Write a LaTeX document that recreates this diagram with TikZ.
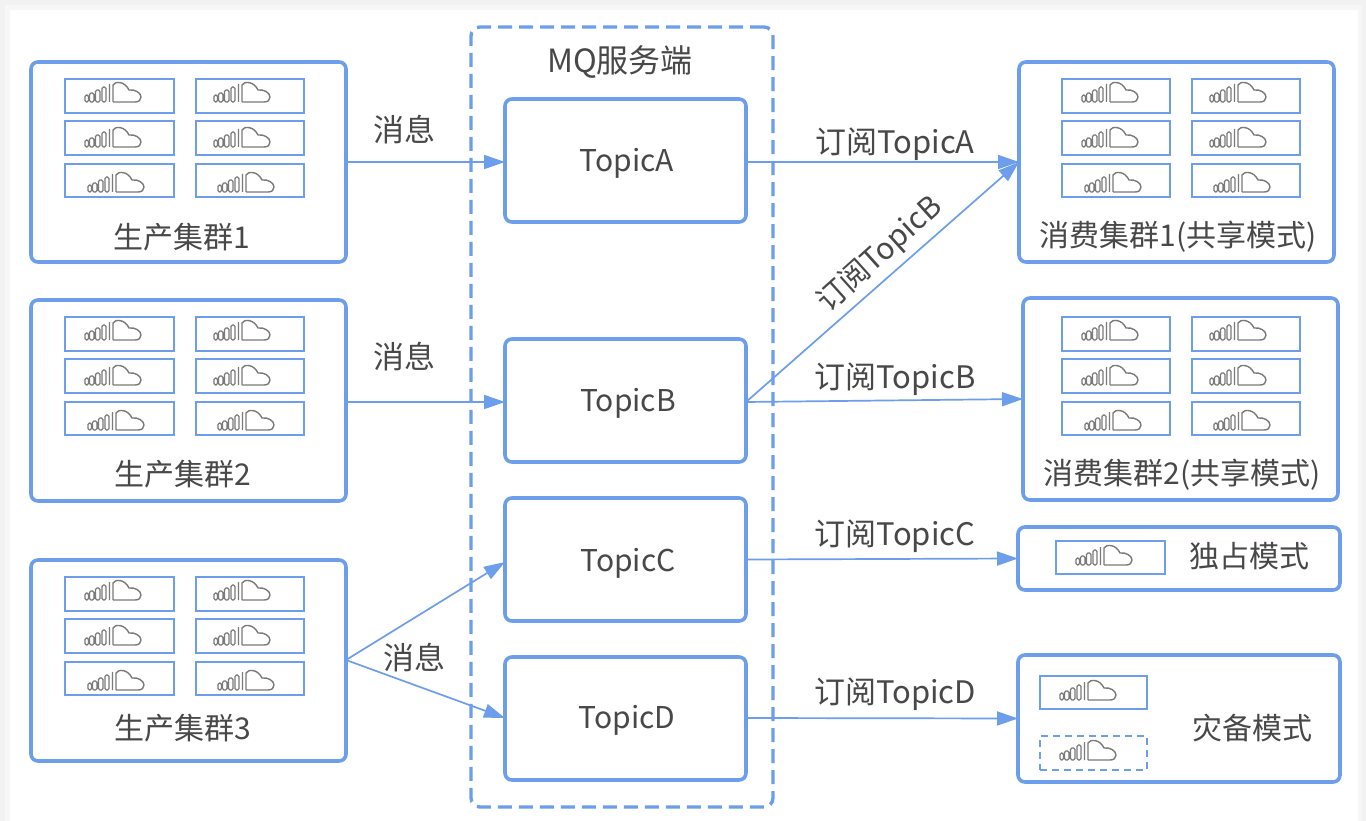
\documentclass[tikz,border=0pt]{standalone}
\usepackage{fontspec}
\setmainfont{Noto Sans CJK SC}
\usetikzlibrary{arrows.meta}
\definecolor{mqblue}{HTML}{6D9EEB}
\definecolor{mqtext}{HTML}{484848}
\definecolor{mqicon}{HTML}{7A7A7A}
\tikzset{
  x=1pt,y=-1pt,
  outerbox/.style={draw=mqblue,line width=3.6pt,rounded corners=7pt,fill=white,inner sep=0pt,outer sep=0pt},
  innerbox/.style={draw=mqblue,line width=1.7pt,fill=white,inner sep=0pt,outer sep=0pt},
  mqgroup/.style={draw=mqblue,line width=3.4pt,rounded corners=9pt,dash pattern=on 14pt off 7pt,inner sep=0pt,outer sep=0pt},
  drbox/.style={draw=mqblue,line width=1.7pt,dash pattern=on 7pt off 5pt,fill=white,inner sep=0pt,outer sep=0pt},
  lbl/.style={font=\fontsize{30}{32}\selectfont,text=mqtext,inner sep=0pt},
  wlbl/.style={font=\fontsize{31}{33}\selectfont,text=mqtext,inner sep=0pt},
  flow/.style={draw=mqblue,line width=1.7pt,-{Triangle[length=21pt,width=14pt]}},
  pics/cloudicon/.style={code={
    \draw[mqicon,line width=1.1pt,rounded corners=1.5pt]
      (0,-7) rectangle (3.5,0) (4.5,-9) rectangle (9,0) (10.5,-12) rectangle (15,0) (17,-15) rectangle (21,0);
    \draw[mqicon,line width=1.4pt,line join=round]
      (24.5,-18) -- (24.5,0) (28,0) -- (28,-17)
      .. controls (30,-21) and (40,-21) .. (44,-12)
      .. controls (50,-13) and (56,-9) .. (56,-5)
      .. controls (56,-2) and (54,0) .. (50,0) -- (28,0);
  }}
}
% name, x1, y1, x2, y2, style
\newcommand{\pxbox}[6]{%
  \pgfmathsetmacro{\bw}{(#4)-(#2)}\pgfmathsetmacro{\bh}{(#5)-(#3)}%
  \pgfmathsetmacro{\bx}{((#2)+(#4))/2}\pgfmathsetmacro{\by}{((#3)+(#5))/2}%
  \node[#6,minimum width=\bw pt,minimum height=\bh pt] (#1) at (\bx,\by) {};%
}
% name, x1, y1, x2, y2, icon left offset, icon bottom offset
\newcommand{\iconbox}[7]{%
  \pxbox{#1}{#2}{#3}{#4}{#5}{innerbox}%
  \pgfmathsetmacro{\ix}{(#2)+(#6)}\pgfmathsetmacro{\iy}{(#5)-(#7)}%
  \pic at (\ix,\iy) {cloudicon};%
}
% prefix, col1 x1,x2, col2 x1, rows y
\newcommand{\sixboxes}[5]{%
  \iconbox{#1a}{#2}{#5+0}{#3}{#5+34}{20}{11}%
  \iconbox{#1b}{#4}{#5+0}{#4+108}{#5+34}{18}{11}%
  \iconbox{#1c}{#2}{#5+42}{#3}{#5+76}{20}{8}%
  \iconbox{#1d}{#4}{#5+42}{#4+108}{#5+76}{18}{8}%
  \iconbox{#1e}{#2}{#5+85}{#3}{#5+118}{23}{5}%
  \iconbox{#1f}{#4}{#5+85}{#4+108}{#5+118}{22}{5}%
}
\begin{document}
\begin{tikzpicture}
\useasboundingbox (0,0) rectangle (1366,821);
\fill[black!5] (0,0) rectangle (1366,821);
\fill[black!3] (5,5) rectangle (1362,821);
\fill[white] (10,10) rectangle (1358,821);

% MQ server
\pxbox{mq}{471}{27}{773}{807}{mqgroup}
\node[lbl,font=\fontsize{32}{34}\selectfont] (mqlabel) at (620,62) {MQ服务端};
\pxbox{topica}{505}{99}{746}{222}{outerbox}
\pxbox{topicb}{505}{339}{746}{462}{outerbox}
\pxbox{topicc}{505}{498}{746}{621}{outerbox}
\pxbox{topicd}{505}{657}{746}{780}{outerbox}
\node[lbl] (ta) at (627,163) {TopicA};
\node[lbl] (tb) at (628,403) {TopicB};
\node[lbl] (tc) at (628,563) {TopicC};
\node[lbl] (td) at (627,720) {TopicD};

% producers
\pxbox{pa}{31}{62}{346}{262}{outerbox}
\sixboxes{pai}{65}{174}{196}{79}
\node[lbl] (pal) at (182,237) {生产集群1};
\pxbox{pb}{31}{300}{346}{501}{outerbox}
\sixboxes{pbi}{65}{174}{196}{317}
\node[lbl] (pbl) at (183,474) {生产集群2};
\pxbox{pc}{31}{560}{346}{761}{outerbox}
\sixboxes{pci}{65}{174}{196}{577}
\node[lbl] (pcl) at (183,728) {生产集群3};

% consumers
\pxbox{ca}{1019}{62}{1334}{262}{outerbox}
\sixboxes{cai}{1062}{1170}{1192}{79}
\node[lbl] (cal) at (1178,237) {消费集群1(共享模式)};
\pxbox{cb}{1023}{298}{1338}{500}{outerbox}
\sixboxes{cbi}{1062}{1170}{1192}{317}
\node[lbl] (cbl) at (1182,475) {消费集群2(共享模式)};
\pxbox{cc}{1018}{527}{1340}{590}{outerbox}
\iconbox{cci}{1056}{541}{1165}{574}{20}{9}
\node[lbl] (ccl) at (1249,556) {独占模式};
\pxbox{cd}{1018}{655}{1340}{782}{outerbox}
\iconbox{cdi}{1040}{676}{1147}{709}{20}{9}
\pxbox{cdj}{1040}{736}{1147}{770}{drbox}
\pic at (1060,760) {cloudicon};
\node[lbl] (cdl) at (1252,728) {灾备模式};

% connectors
\draw[flow] (pa.east) -- (topica.west |- pa.east);
\draw[flow] ([yshift=-1.5pt]pb.east) -- ([yshift=-1.5pt]pb.east -| topicb.west);
\draw[flow] ([yshift=0.5pt]pc.east) -- ([yshift=-2.5pt]topicc.west);
\draw[flow] ([yshift=0.5pt]pc.east) -- ([yshift=0.5pt]topicd.west);
\draw[flow] ([yshift=-1.5pt]topica.east) -- ([yshift=0pt]ca.west);
\draw[flow] ([yshift=-1.5pt]topicb.east) -- ([yshift=0pt]ca.west);
\draw[flow] ([yshift=-1.5pt]topicb.east) -- (cb.west);
\draw[flow] ([yshift=0pt]topicc.east) -- ([yshift=0pt]cc.west);
\draw[flow] ([yshift=0.5pt]topicd.east) -- ([yshift=0pt]cd.west);

% connector labels
\node[wlbl] (m1) at (404,130) {消息};
\node[wlbl] (m2) at (404,357) {消息};
\node[wlbl] (m3) at (414,658) {消息};
\node[wlbl] (s1) at (895,144) {订阅TopicA};
\node[lbl,rotate=42] (s2) at (880,255) {订阅TopicB};
\node[wlbl] (s3) at (895,379) {订阅TopicB};
\node[wlbl] (s4) at (895,536) {订阅TopicC};
\node[wlbl] (s5) at (895,694) {订阅TopicD};
\end{tikzpicture}
\end{document}
